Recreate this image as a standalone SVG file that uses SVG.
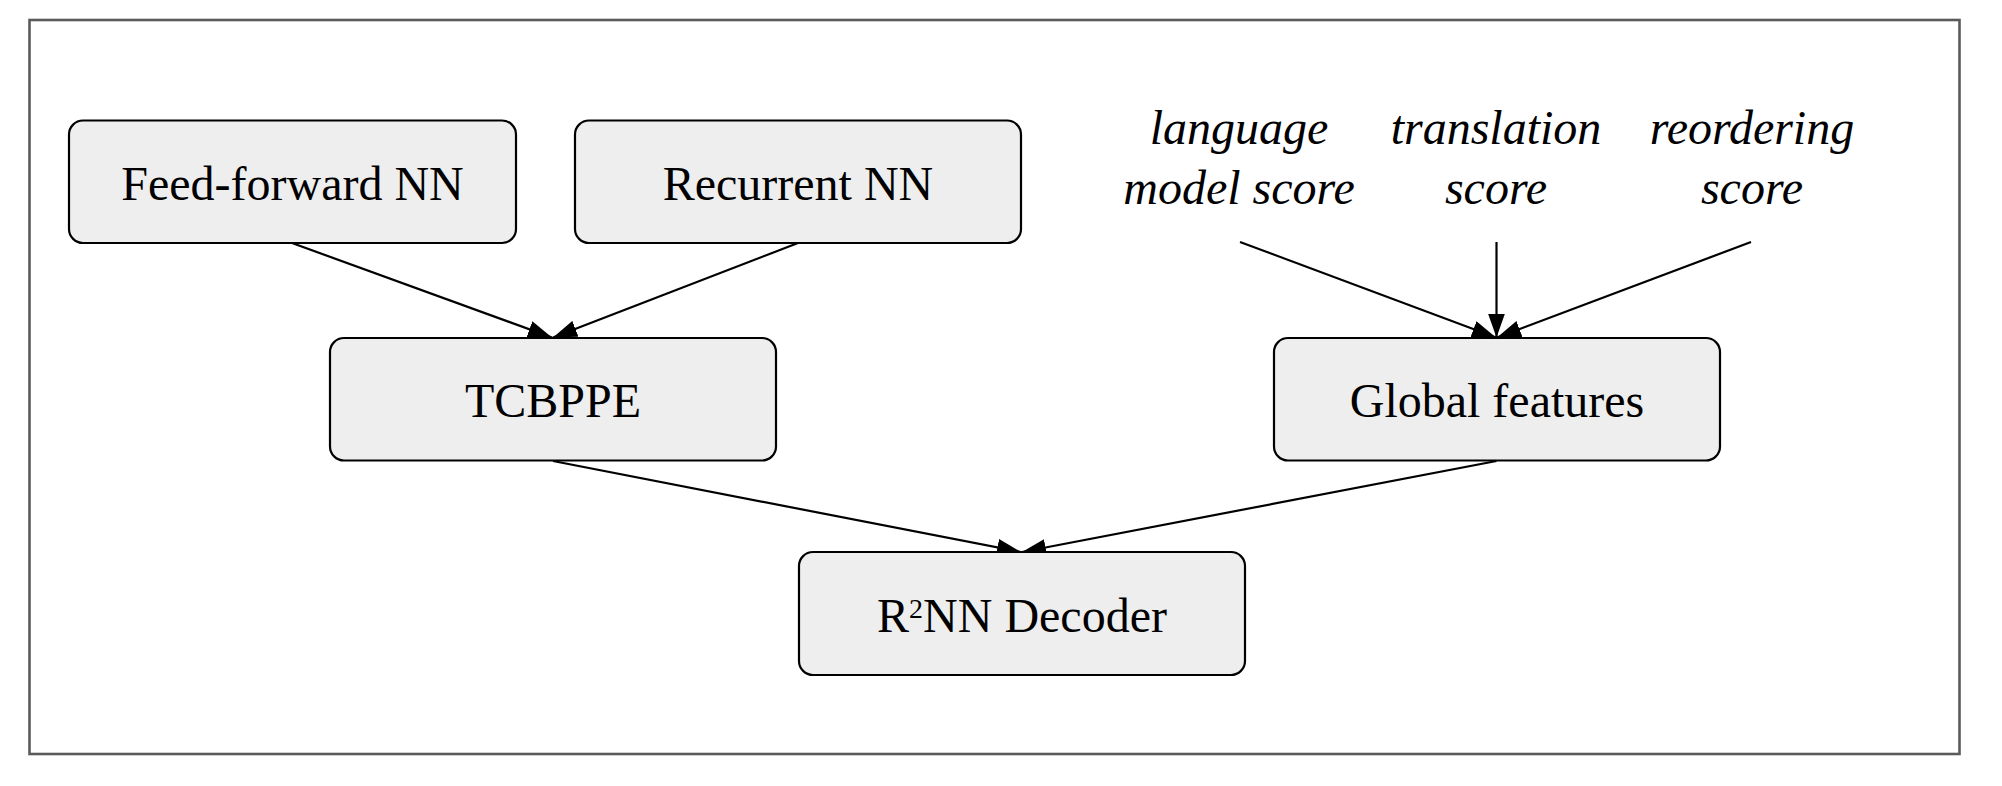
<svg xmlns="http://www.w3.org/2000/svg" width="2002" height="786" viewBox="0 0 2002 786">
  <style>
    .box { fill: #eeeeee; stroke: #000000; stroke-width: 2.2; }
    .lbl { font-family: "Liberation Serif", "Times New Roman", serif; font-size: 48px; fill: #000000; text-anchor: middle; }
    .it { font-family: "Liberation Serif", "Times New Roman", serif; font-size: 48px; font-style: italic; fill: #000000; text-anchor: middle; }
    .edge { stroke: #000000; stroke-width: 2.2; fill: none; marker-end: url(#arrow); }
  </style>
  <defs>
    <marker id="arrow" viewBox="0 0 24 17" refX="24" refY="8.5" markerWidth="24" markerHeight="17" markerUnits="userSpaceOnUse" orient="auto">
      <path d="M0,0 L24,8.5 L0,17 z" fill="#000000"/>
    </marker>
  </defs>
  <rect x="0" y="0" width="2002" height="786" fill="#ffffff"/>
  <rect id="frame" x="29.5" y="20" width="1930" height="734" fill="none" stroke="#5a5a5a" stroke-width="2.6"/>

  <g id="connectors">
    <line class="edge" x1="292" y1="243" x2="552" y2="337.5"/>
    <line class="edge" x1="798" y1="243" x2="553" y2="337.5"/>
    <line class="edge" x1="1240" y1="242" x2="1496" y2="337.5"/>
    <line class="edge" x1="1496.5" y1="242" x2="1496.5" y2="337.5"/>
    <line class="edge" x1="1751" y1="242" x2="1497" y2="337.5"/>
    <line class="edge" x1="553" y1="461" x2="1021" y2="552"/>
    <line class="edge" x1="1496.5" y1="461" x2="1022" y2="552"/>
  </g>

  <g id="node-ffnn">
    <rect class="box" x="69" y="120.5" width="447" height="122.5" rx="14" ry="14"/>
    <text class="lbl" x="292.5" y="200">Feed-forward NN</text>
  </g>
  <g id="node-rnn">
    <rect class="box" x="575" y="120.5" width="446" height="122.5" rx="14" ry="14"/>
    <text class="lbl" x="798" y="200">Recurrent NN</text>
  </g>
  <g id="node-tcbppe">
    <rect class="box" x="330" y="338" width="446" height="122.5" rx="14" ry="14"/>
    <text class="lbl" x="553" y="417">TCBPPE</text>
  </g>
  <g id="node-global">
    <rect class="box" x="1274" y="338" width="446" height="122.5" rx="14" ry="14"/>
    <text class="lbl" x="1497" y="417">Global features</text>
  </g>
  <g id="node-decoder">
    <rect class="box" x="799" y="552" width="446" height="123" rx="14" ry="14"/>
    <text class="lbl" x="1022" y="632">R<tspan font-size="28" dy="-14">2</tspan><tspan dy="14">NN Decoder</tspan></text>
  </g>
  <g id="label-lm">
    <text class="it" x="1239" y="144">language</text>
    <text class="it" x="1239" y="204">model score</text>
  </g>
  <g id="label-tm">
    <text class="it" x="1496" y="144">translation</text>
    <text class="it" x="1496" y="204">score</text>
  </g>
  <g id="label-ro">
    <text class="it" x="1752" y="144">reordering</text>
    <text class="it" x="1752" y="204">score</text>
  </g>
</svg>
